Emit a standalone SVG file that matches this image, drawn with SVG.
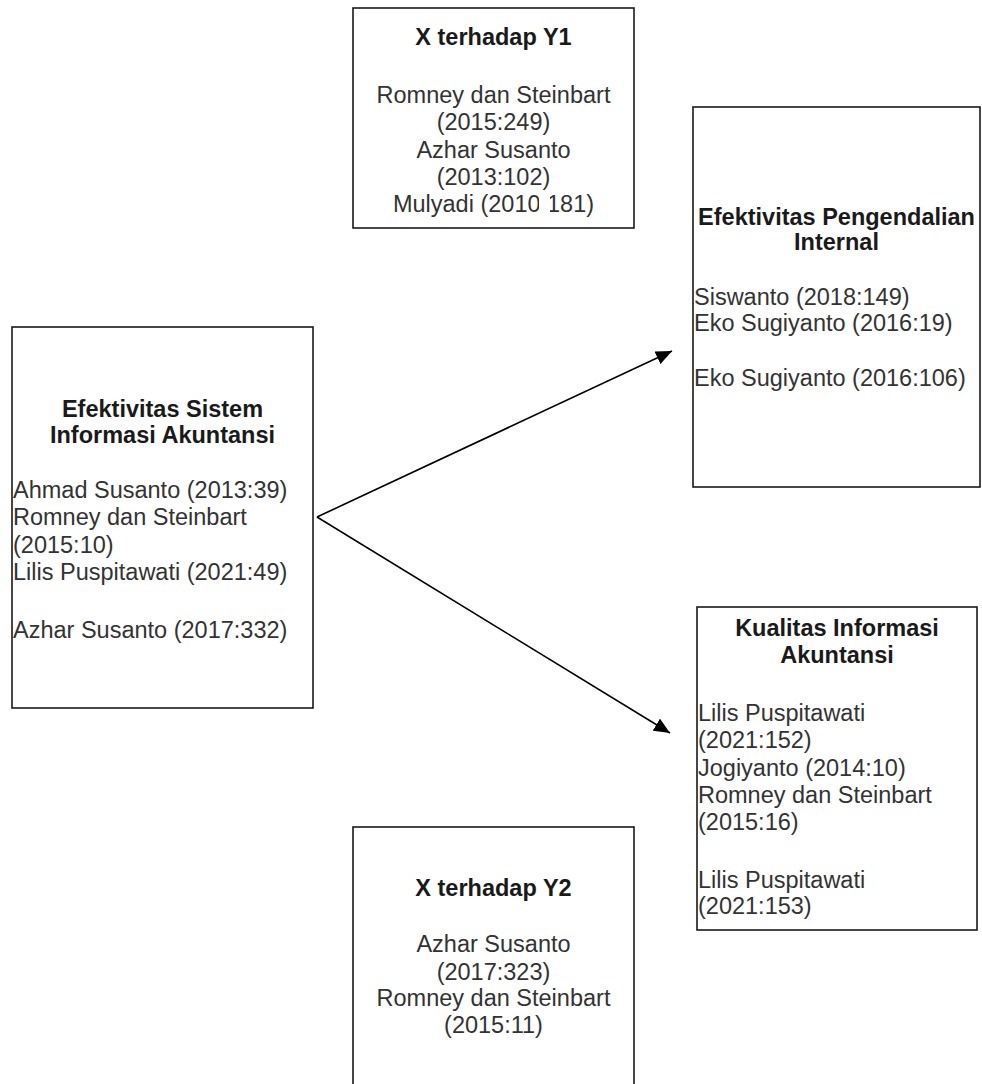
<svg xmlns="http://www.w3.org/2000/svg" width="982" height="1084" viewBox="0 0 982 1084">
<style>
.box{fill:#fff;stroke:#1a1a1a;stroke-width:1.6}
.t{font-family:"Liberation Sans",Arial,sans-serif;font-size:23.5px;fill:#333}
.b{font-weight:bold;fill:#1a1a1a}
.c{text-anchor:middle}
.edge{stroke:#000;stroke-width:1.6;fill:none}
</style>
<defs>
<marker id="arr" markerUnits="userSpaceOnUse" markerWidth="18" markerHeight="14" refX="16" refY="7" orient="auto">
<path d="M0,0 L16,7 L0,14 Z" fill="#000"/>
</marker>
</defs>
<rect width="982" height="1084" fill="#fff"/>
<g id="connectors">
<line class="edge" x1="317" y1="517" x2="672" y2="351" marker-end="url(#arr)"/>
<line class="edge" x1="317" y1="517" x2="670" y2="733" marker-end="url(#arr)"/>
</g>
<g id="x-y1">
<rect class="box" x="353" y="8" width="281" height="220"/>
<text class="t b c" x="493.5" y="45">X terhadap Y1</text>
<text class="t c" x="493.5" y="103">Romney dan Steinbart</text>
<text class="t c" x="493.5" y="130">(2015:249)</text>
<text class="t c" x="493.5" y="158">Azhar Susanto</text>
<text class="t c" x="493.5" y="185">(2013:102)</text>
<text class="t c" x="493.5" y="212">Mulyadi (2010:181)</text>
<rect x="539" y="194" width="11" height="20" fill="#fff"/>
</g>
<g id="sia">
<rect class="box" x="12" y="327" width="301" height="381"/>
<text class="t b c" x="162.5" y="417">Efektivitas Sistem</text>
<text class="t b c" x="162.5" y="443">Informasi Akuntansi</text>
<text class="t" x="13" y="498">Ahmad Susanto (2013:39)</text>
<text class="t" x="13" y="525">Romney dan Steinbart</text>
<text class="t" x="13" y="553">(2015:10)</text>
<text class="t" x="13" y="580">Lilis Puspitawati (2021:49)</text>
<text class="t" x="13" y="638">Azhar Susanto (2017:332)</text>
</g>
<g id="epi">
<rect class="box" x="693" y="107" width="287" height="380"/>
<text class="t b c" x="836.5" y="225">Efektivitas Pengendalian</text>
<text class="t b c" x="836.5" y="250">Internal</text>
<text class="t" x="694" y="305">Siswanto (2018:149)</text>
<text class="t" x="694" y="331">Eko Sugiyanto (2016:19)</text>
<text class="t" x="694" y="386">Eko Sugiyanto (2016:106)</text>
</g>
<g id="kia">
<rect class="box" x="697" y="607" width="280" height="323"/>
<text class="t b c" x="837" y="636">Kualitas Informasi</text>
<text class="t b c" x="837" y="663">Akuntansi</text>
<text class="t" x="698" y="721">Lilis Puspitawati</text>
<text class="t" x="698" y="748">(2021:152)</text>
<text class="t" x="698" y="776">Jogiyanto (2014:10)</text>
<text class="t" x="698" y="803">Romney dan Steinbart</text>
<text class="t" x="698" y="830">(2015:16)</text>
<text class="t" x="698" y="888">Lilis Puspitawati</text>
<text class="t" x="698" y="914">(2021:153)</text>
</g>
<g id="x-y2">
<rect class="box" x="353" y="827" width="281" height="270"/>
<text class="t b c" x="493.5" y="896">X terhadap Y2</text>
<text class="t c" x="493.5" y="952">Azhar Susanto</text>
<text class="t c" x="493.5" y="980">(2017:323)</text>
<text class="t c" x="493.5" y="1006">Romney dan Steinbart</text>
<text class="t c" x="493.5" y="1033">(2015:11)</text>
</g>
</svg>
